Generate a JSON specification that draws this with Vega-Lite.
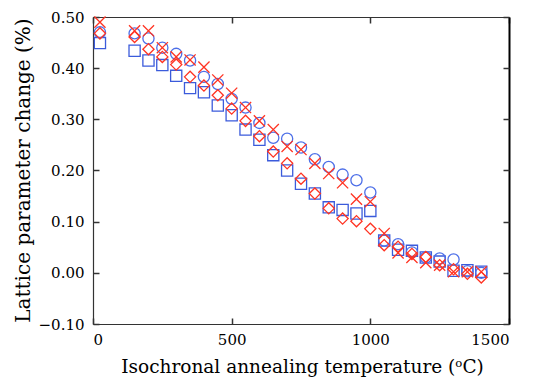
{
  "$schema": "https://vega.github.io/schema/vega-lite/v6.json",
  "autosize": {"type": "none"},
  "padding": {"left": 93, "top": 17, "right": 24, "bottom": 55},
  "width": 416,
  "height": 307,
  "config": {
    "view": {"stroke": null},
    "font": "DejaVu Serif",
    "axis": {"labelFont": "DejaVu Serif", "titleFont": "DejaVu Serif", "labelColor": "#000", "titleColor": "#000", "labelFontSize": 15, "titleFontSize": 18.5, "titleFontWeight": "normal", "grid": false, "domain": true, "ticks": true, "tickSize": 6, "tickColor": "#333", "domainColor": "#333", "domainWidth": 1.2, "tickWidth": 1.5}
  },
  "resolve": {"axis": {"x": "independent", "y": "independent"}},
  "data": {"values": [
    {"series": "a-axis ID 21", "temp": 25, "change": 0.449},
    {"series": "a-axis ID 21", "temp": 150, "change": 0.434},
    {"series": "a-axis ID 21", "temp": 200, "change": 0.415},
    {"series": "a-axis ID 21", "temp": 250, "change": 0.406},
    {"series": "a-axis ID 21", "temp": 300, "change": 0.385},
    {"series": "a-axis ID 21", "temp": 350, "change": 0.361},
    {"series": "a-axis ID 21", "temp": 400, "change": 0.353},
    {"series": "a-axis ID 21", "temp": 450, "change": 0.327},
    {"series": "a-axis ID 21", "temp": 500, "change": 0.308},
    {"series": "a-axis ID 21", "temp": 550, "change": 0.280},
    {"series": "a-axis ID 21", "temp": 600, "change": 0.260},
    {"series": "a-axis ID 21", "temp": 650, "change": 0.230},
    {"series": "a-axis ID 21", "temp": 700, "change": 0.200},
    {"series": "a-axis ID 21", "temp": 750, "change": 0.174},
    {"series": "a-axis ID 21", "temp": 800, "change": 0.155},
    {"series": "a-axis ID 21", "temp": 850, "change": 0.128},
    {"series": "a-axis ID 21", "temp": 900, "change": 0.123},
    {"series": "a-axis ID 21", "temp": 950, "change": 0.116},
    {"series": "a-axis ID 21", "temp": 1000, "change": 0.121},
    {"series": "a-axis ID 21", "temp": 1050, "change": 0.063},
    {"series": "a-axis ID 21", "temp": 1100, "change": 0.045},
    {"series": "a-axis ID 21", "temp": 1150, "change": 0.043},
    {"series": "a-axis ID 21", "temp": 1200, "change": 0.030},
    {"series": "a-axis ID 21", "temp": 1250, "change": 0.022},
    {"series": "a-axis ID 21", "temp": 1300, "change": 0.004},
    {"series": "a-axis ID 21", "temp": 1350, "change": 0.005},
    {"series": "a-axis ID 21", "temp": 1400, "change": 0.002},
    {"series": "c-axis ID 21", "temp": 25, "change": 0.470},
    {"series": "c-axis ID 21", "temp": 150, "change": 0.468},
    {"series": "c-axis ID 21", "temp": 200, "change": 0.458},
    {"series": "c-axis ID 21", "temp": 250, "change": 0.440},
    {"series": "c-axis ID 21", "temp": 300, "change": 0.428},
    {"series": "c-axis ID 21", "temp": 350, "change": 0.415},
    {"series": "c-axis ID 21", "temp": 400, "change": 0.383},
    {"series": "c-axis ID 21", "temp": 450, "change": 0.369},
    {"series": "c-axis ID 21", "temp": 500, "change": 0.340},
    {"series": "c-axis ID 21", "temp": 550, "change": 0.323},
    {"series": "c-axis ID 21", "temp": 600, "change": 0.293},
    {"series": "c-axis ID 21", "temp": 650, "change": 0.264},
    {"series": "c-axis ID 21", "temp": 700, "change": 0.262},
    {"series": "c-axis ID 21", "temp": 750, "change": 0.245},
    {"series": "c-axis ID 21", "temp": 800, "change": 0.222},
    {"series": "c-axis ID 21", "temp": 850, "change": 0.207},
    {"series": "c-axis ID 21", "temp": 900, "change": 0.192},
    {"series": "c-axis ID 21", "temp": 950, "change": 0.181},
    {"series": "c-axis ID 21", "temp": 1000, "change": 0.157},
    {"series": "c-axis ID 21", "temp": 1050, "change": 0.063},
    {"series": "c-axis ID 21", "temp": 1100, "change": 0.056},
    {"series": "c-axis ID 21", "temp": 1150, "change": 0.040},
    {"series": "c-axis ID 21", "temp": 1200, "change": 0.030},
    {"series": "c-axis ID 21", "temp": 1250, "change": 0.028},
    {"series": "c-axis ID 21", "temp": 1300, "change": 0.026},
    {"series": "c-axis ID 21", "temp": 1350, "change": 0.003},
    {"series": "c-axis ID 21", "temp": 1400, "change": 0.000},
    {"series": "a-axis ID 23", "temp": 25, "change": 0.468},
    {"series": "a-axis ID 23", "temp": 150, "change": 0.461},
    {"series": "a-axis ID 23", "temp": 200, "change": 0.437},
    {"series": "a-axis ID 23", "temp": 250, "change": 0.422},
    {"series": "a-axis ID 23", "temp": 300, "change": 0.407},
    {"series": "a-axis ID 23", "temp": 350, "change": 0.383},
    {"series": "a-axis ID 23", "temp": 400, "change": 0.366},
    {"series": "a-axis ID 23", "temp": 450, "change": 0.347},
    {"series": "a-axis ID 23", "temp": 500, "change": 0.321},
    {"series": "a-axis ID 23", "temp": 550, "change": 0.297},
    {"series": "a-axis ID 23", "temp": 600, "change": 0.267},
    {"series": "a-axis ID 23", "temp": 650, "change": 0.237},
    {"series": "a-axis ID 23", "temp": 700, "change": 0.214},
    {"series": "a-axis ID 23", "temp": 750, "change": 0.184},
    {"series": "a-axis ID 23", "temp": 800, "change": 0.155},
    {"series": "a-axis ID 23", "temp": 850, "change": 0.126},
    {"series": "a-axis ID 23", "temp": 900, "change": 0.106},
    {"series": "a-axis ID 23", "temp": 950, "change": 0.101},
    {"series": "a-axis ID 23", "temp": 1000, "change": 0.086},
    {"series": "a-axis ID 23", "temp": 1050, "change": 0.054},
    {"series": "a-axis ID 23", "temp": 1100, "change": 0.051},
    {"series": "a-axis ID 23", "temp": 1150, "change": 0.037},
    {"series": "a-axis ID 23", "temp": 1200, "change": 0.031},
    {"series": "a-axis ID 23", "temp": 1250, "change": 0.015},
    {"series": "a-axis ID 23", "temp": 1300, "change": 0.007},
    {"series": "a-axis ID 23", "temp": 1350, "change": -0.002},
    {"series": "a-axis ID 23", "temp": 1400, "change": -0.009},
    {"series": "c-axis ID 23", "temp": 25, "change": 0.490},
    {"series": "c-axis ID 23", "temp": 150, "change": 0.473},
    {"series": "c-axis ID 23", "temp": 200, "change": 0.473},
    {"series": "c-axis ID 23", "temp": 250, "change": 0.440},
    {"series": "c-axis ID 23", "temp": 300, "change": 0.422},
    {"series": "c-axis ID 23", "temp": 350, "change": 0.416},
    {"series": "c-axis ID 23", "temp": 400, "change": 0.402},
    {"series": "c-axis ID 23", "temp": 450, "change": 0.377},
    {"series": "c-axis ID 23", "temp": 500, "change": 0.351},
    {"series": "c-axis ID 23", "temp": 550, "change": 0.323},
    {"series": "c-axis ID 23", "temp": 600, "change": 0.297},
    {"series": "c-axis ID 23", "temp": 650, "change": 0.280},
    {"series": "c-axis ID 23", "temp": 700, "change": 0.247},
    {"series": "c-axis ID 23", "temp": 750, "change": 0.241},
    {"series": "c-axis ID 23", "temp": 800, "change": 0.214},
    {"series": "c-axis ID 23", "temp": 850, "change": 0.194},
    {"series": "c-axis ID 23", "temp": 900, "change": 0.176},
    {"series": "c-axis ID 23", "temp": 950, "change": 0.144},
    {"series": "c-axis ID 23", "temp": 1000, "change": 0.139},
    {"series": "c-axis ID 23", "temp": 1050, "change": 0.077},
    {"series": "c-axis ID 23", "temp": 1100, "change": 0.039},
    {"series": "c-axis ID 23", "temp": 1150, "change": 0.030},
    {"series": "c-axis ID 23", "temp": 1200, "change": 0.020},
    {"series": "c-axis ID 23", "temp": 1250, "change": 0.015},
    {"series": "c-axis ID 23", "temp": 1300, "change": 0.002},
    {"series": "c-axis ID 23", "temp": 1350, "change": 0.002},
    {"series": "c-axis ID 23", "temp": 1400, "change": 0.002}
  ]},
  "layer": [
    {
      "mark": {"type": "point", "filled": false, "size": 125, "strokeWidth": 1.3, "opacity": 1},
      "encoding": {
        "x": {"field": "temp", "type": "quantitative", "scale": {"domain": [0, 1500], "nice": false},
          "axis": {"orient": "bottom", "values": [0, 500, 1000, 1500], "format": "d", "ticks": false, "domain": true, "title": "Isochronal annealing temperature (ᵒC)", "labelPadding": 8, "titleX": 209, "titleY": 48, "titleBaseline": "alphabetic"}},
        "y": {"field": "change", "type": "quantitative", "scale": {"domain": [-0.1, 0.5], "nice": false, "zero": false},
          "axis": {"orient": "left", "values": [-0.1, 0, 0.1, 0.2, 0.3, 0.4, 0.5], "format": ".2f", "ticks": false, "domain": true, "title": "Lattice parameter change (%)", "titleFontSize": 20, "labelPadding": 9, "titleX": -64, "titleY": 153, "titleAngle": -90, "titleBaseline": "alphabetic", "titleAlign": "center"}},
        "color": {"field": "series", "type": "nominal",
          "scale": {"domain": ["a-axis ID 21", "c-axis ID 21", "a-axis ID 23", "c-axis ID 23"], "range": ["#3b5bdb", "#4d6fe8", "#ff3322", "#ff3322"]},
          "legend": null},
        "shape": {"field": "series", "type": "nominal",
          "scale": {"domain": ["a-axis ID 21", "c-axis ID 21", "a-axis ID 23", "c-axis ID 23"], "range": ["square", "circle", "diamond", "M-1,-1L1,1M-1,1L1,-1"]},
          "legend": null}
      }
    },
    {
      "mark": {"type": "point", "opacity": 0},
      "encoding": {
        "x": {"field": "temp", "type": "quantitative", "axis": {"orient": "top", "values": [0, 500, 1000, 1500], "domain": true, "ticks": false, "labels": false, "title": null}},
        "y": {"field": "change", "type": "quantitative", "axis": {"orient": "right", "values": [-0.1, 0, 0.1, 0.2, 0.3, 0.4, 0.5], "domain": true, "ticks": false, "labels": false, "title": null, "domainColor": "#000", "domainWidth": 2}}
      }
    },
    {
      "mark": {"type": "point", "opacity": 0},
      "encoding": {
        "x": {"field": "temp", "type": "quantitative", "axis": {"orient": "bottom", "offset": -6, "domain": false, "ticks": true, "values": [0, 500, 1000, 1500], "labels": false, "title": null}},
        "y": {"field": "change", "type": "quantitative", "axis": {"orient": "left", "offset": -6, "domain": false, "ticks": true, "values": [-0.1, 0, 0.1, 0.2, 0.3, 0.4, 0.5], "labels": false, "title": null}}
      }
    },
    {
      "mark": {"type": "point", "opacity": 0},
      "encoding": {
        "x": {"field": "temp", "type": "quantitative", "axis": {"orient": "top", "offset": -6, "domain": false, "ticks": true, "values": [0, 500, 1000, 1500], "labels": false, "title": null}},
        "y": {"field": "change", "type": "quantitative", "axis": {"orient": "right", "offset": -6, "domain": false, "ticks": true, "values": [-0.1, 0, 0.1, 0.2, 0.3, 0.4, 0.5], "labels": false, "title": null}}
      }
    }
  ]
}
